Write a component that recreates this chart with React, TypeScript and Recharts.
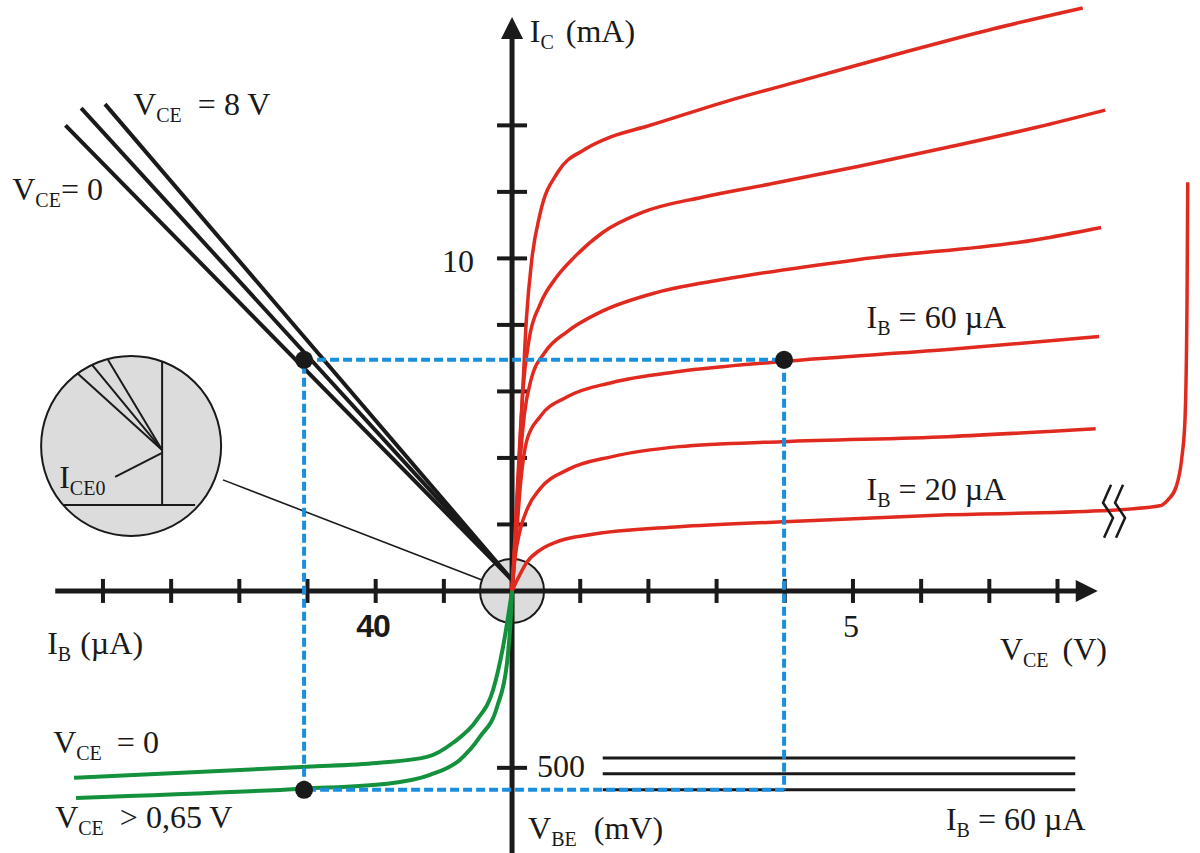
import React from "react";
import { ComposedChart, Line, XAxis, YAxis, ReferenceLine, ReferenceDot } from "recharts";

// one x unit = 1 V (right half) or 20 µA (left half)
// one y unit = 1 mA (top half) or 94 mV (bottom half)
const IB_PER_UNIT = 20;
const MV_PER_UNIT = 94;
const X_DOMAIN: [number, number] = [-7.51, 10.09];
const Y_DOMAIN: [number, number] = [-7.88, 17.77];

// output characteristics [V_CE (V), I_C (mA)]
const ic20 = [[0, 0], [0.09, 0.39], [0.22, 0.87], [0.41, 1.23], [0.7, 1.51], [1.14, 1.69], [2.45, 1.93], [3.96, 2.08], [6.39, 2.29], [8.64, 2.41], [9.5, 2.56], [9.62, 2.74], [9.74, 3.13], [9.82, 3.95], [9.87, 5.15], [9.9, 8.77], [9.91, 12.29]];
const ic40 = [[0, 0], [0.04, 0.93], [0.12, 1.84], [0.23, 2.5], [0.41, 3.07], [0.81, 3.64], [1.47, 4.04], [2.45, 4.34], [3.96, 4.49], [6.39, 4.64], [8.56, 4.88]];
const ic60 = [[0, 0], [0.06, 1.54], [0.13, 3.34], [0.22, 4.55], [0.41, 5.24], [0.81, 5.84], [1.47, 6.27], [2.45, 6.6], [3.96, 6.9], [6.39, 7.26], [8.61, 7.65]];
const ic80 = [[0, 0], [0.06, 1.84], [0.12, 3.95], [0.18, 5.3], [0.28, 6.36], [0.48, 7.17], [0.81, 7.8], [1.28, 8.37], [2.13, 8.98], [3.11, 9.37], [5.09, 9.97], [7.71, 10.57], [8.64, 10.93]];
const ic100 = [[0, 0], [0.04, 1.54], [0.1, 3.95], [0.16, 6.05], [0.25, 7.56], [0.41, 8.61], [0.65, 9.43], [0.91, 10.03], [1.33, 10.78], [1.92, 11.39], [2.79, 11.84], [3.77, 12.23], [5.09, 12.77], [6.39, 13.34], [7.71, 13.95], [8.7, 14.46]];
const ic120 = [[0, 0], [0.03, 0.93], [0.09, 3.34], [0.15, 5.75], [0.21, 8.16], [0.29, 9.97], [0.41, 11.33], [0.67, 12.59], [1.07, 13.28], [1.47, 13.67], [1.99, 13.98], [3.11, 14.7], [4.43, 15.45], [5.75, 16.2], [7.05, 16.9], [8.37, 17.53]];

// current transfer [I_B (µA), I_C (mA)]
const ICE0 = 0.33;
const gainVce0 = [[0, ICE0], [131, 14.0]];
const gainVceMid = [[0, ICE0], [126.4, 14.52]];
const gainVce8 = [[0, ICE0], [119.4, 14.64]];

// input characteristics [I_B (µA), V_BE (mV)]
const inputVce0 = [[0, 0], [2.64, 158], [5.57, 280], [10.27, 364], [17.3, 429], [24.93, 469], [39.6, 486], [60.1, 497], [128.5, 528]];
const inputVceHigh = [[0, 0], [0.3, 62], [1.47, 203], [4.4, 328], [9.39, 412], [15.25, 477], [24.05, 520], [36.66, 545], [61.3, 559], [127.9, 585]];

// feedback characteristics: V_BE (mV) levels over V_CE range (V)
const feedbackVbe = [472, 517, 562];
const feedbackVce = [1.33, 8.26];

// operating point
const opIb = 61;
const opIc = 6.95;
const opVce = 3.99;
const opVbe = 562;

// ticks
const vceTicks = [1, 2, 3, 4, 5, 6, 7, 8];
const ibTicks = [20, 40, 60, 80, 100, 120];
const icTicks = [2, 4, 6, 8, 10, 12, 14];
const vbeTicks = [500];

const ibX = (ib: number) => -ib / IB_PER_UNIT;
const vbeY = (mv: number) => -mv / MV_PER_UNIT;

const byX = (a: { x: number }, b: { x: number }) => a.x - b.x;
const outData = [ic20, ic40, ic60, ic80, ic100, ic120].map((s) => s.map(([v, i]) => ({ x: v, y: i })));
const gainData = [gainVce0, gainVceMid, gainVce8].map((s) => s.map(([ib, ic]) => ({ x: ibX(ib), y: ic })).sort(byX));
const inputData = [inputVce0, inputVceHigh].map((s) => s.map(([ib, mv]) => ({ x: ibX(ib), y: vbeY(mv) })).sort(byX));
const feedbackData = feedbackVbe.map((mv) => feedbackVce.map((v) => ({ x: v, y: vbeY(mv) })));

const RED = "#e12a1f";
const GREEN = "#14913d";
const BLUE = "#1b8fdd";
const INK = "#1a1a1a";
const GRAY = "#dcdcdc";
const SERIF = "'Liberation Serif', 'Times New Roman', Times, serif";
const SANS = "'Liberation Sans', Arial, sans-serif";

type Part = { t: string; sub?: boolean; dx?: number };
interface Lbl {
  x: number;
  y: number;
  parts: Part[];
  anchor?: "start" | "middle" | "end";
  bold?: boolean;
}

const labels: Lbl[] = [
  { x: 0.26, y: 16.51, parts: [{ t: "I" }, { t: "C", sub: true }, { t: " (mA)", dx: 4 }] },
  { x: -5.557, y: 14.32, parts: [{ t: "V" }, { t: "CE", sub: true }, { t: "= 8 V", dx: 16 }] },
  { x: -7.331, y: 11.76, parts: [{ t: "V" }, { t: "CE", sub: true }, { t: "= 0", dx: 0 }] },
  { x: -0.557, y: 9.59, anchor: "end", parts: [{ t: "10" }] },
  { x: 5.2, y: 7.91, parts: [{ t: "I" }, { t: "B", sub: true }, { t: " = 60 µA" }] },
  { x: 5.2, y: 2.74, parts: [{ t: "I" }, { t: "B", sub: true }, { t: " = 20 µA" }] },
  { x: -6.642, y: 3.1, parts: [{ t: "I" }, { t: "CE0", sub: true }] },
  { x: -6.818, y: -1.895, parts: [{ t: "I" }, { t: "B", sub: true }, { t: " (µA)", dx: 1 }] },
  { x: -2.038, y: -1.383, anchor: "middle", bold: true, parts: [{ t: "40" }] },
  { x: 4.97, y: -1.383, anchor: "middle", parts: [{ t: "5" }] },
  { x: 7.155, y: -2.075, parts: [{ t: "V" }, { t: "CE", sub: true }, { t: "(V)", dx: 14 }] },
  { x: -6.73, y: -4.872, parts: [{ t: "V" }, { t: "CE", sub: true }, { t: "= 0", dx: 15 }] },
  { x: -6.701, y: -7.128, parts: [{ t: "V" }, { t: "CE", sub: true }, { t: "> 0,65 V", dx: 16 }] },
  { x: 0.367, y: -5.594, parts: [{ t: "500" }] },
  { x: 0.235, y: -7.459, parts: [{ t: "V" }, { t: "BE", sub: true }, { t: "(mV)", dx: 17 }] },
  { x: 6.364, y: -7.188, parts: [{ t: "I" }, { t: "B", sub: true }, { t: " = 60 µA" }] }
];

const FONT_SIZE = 32;
const SUB_SIZE = 20;
const SUB_DY = 7;

function labelShape(l: Lbl) {
  return (p: any) => {
    let shift = 0;
    const size = FONT_SIZE;
    return (
      <text
        x={p.cx}
        y={p.cy}
        textAnchor={l.anchor || "start"}
        fill={INK}
        xmlSpace="preserve"
        style={{ whiteSpace: "pre", fontFamily: l.bold ? SANS : SERIF, fontWeight: l.bold ? 700 : 400, fontSize: size, letterSpacing: l.bold ? -1 : 0 }}
      >
        {l.parts.map((pt, i) => {
          const target = pt.sub ? SUB_DY : 0;
          const dy = target - shift;
          shift = target;
          return (
            <tspan key={i} dy={dy} dx={pt.dx || 0} style={{ fontSize: pt.sub ? SUB_SIZE : size }}>
              {pt.t}
            </tspan>
          );
        })}
      </text>
    );
  };
}

const vTick = (p: any) => <line x1={p.cx} x2={p.cx} y1={p.cy - 12} y2={p.cy + 12} stroke={INK} strokeWidth={4} />;
const hTick = (p: any) => <line x1={p.cx - 15} x2={p.cx + 15} y1={p.cy} y2={p.cy} stroke={INK} strokeWidth={4} />;
const arrowRight = (p: any) => <polygon points={`${p.cx},${p.cy} ${p.cx - 22},${p.cy - 11} ${p.cx - 22},${p.cy + 11}`} fill={INK} />;
const arrowUp = (p: any) => <polygon points={`${p.cx},${p.cy} ${p.cx - 11},${p.cy + 22} ${p.cx + 11},${p.cy + 22}`} fill={INK} />;

// magnified view of the origin
const insetShape = (p: any) => {
  const { cx, cy } = p;
  const ax = cx + 31;
  const ay = cy + 4;
  const rays = [[-54, -73], [-39, -81], [-23, -86]];
  return (
    <g stroke={INK} strokeWidth={2}>
      <circle cx={cx} cy={cy} r={90} fill={GRAY} />
      <line x1={cx + 31} y1={cy - 85} x2={cx + 31} y2={cy + 59} />
      <line x1={cx - 68} y1={cy + 59} x2={cx + 64} y2={cy + 59} />
      {rays.map(([dx, dy], i) => (
        <line key={i} x1={ax} y1={ay} x2={cx + dx} y2={cy + dy} />
      ))}
      <line x1={cx - 16} y1={cy + 31} x2={ax} y2={cy + 7} />
    </g>
  );
};

const breakShape = (p: any) => {
  const { cx, cy } = p;
  const mark = (o: number) => `M${cx + o - 1},${cy - 27} L${cx + o - 9},${cy - 9} L${cx + o + 1},${cy + 6} L${cx + o - 8},${cy + 26}`;
  return (
    <g fill="none" stroke={INK} strokeWidth={2.5}>
      <path d={mark(0)} />
      <path d={mark(12)} />
    </g>
  );
};

export default function App() {
  const opX = ibX(opIb);
  const opY = vbeY(opVbe);
  return (
    <div style={{ position: "absolute", left: 0, top: 0, width: 1200, height: 853, background: "#fff" }}>
      <ComposedChart width={1200} height={853} margin={{ top: 0, right: 0, bottom: 0, left: 0 }}>
        <XAxis type="number" dataKey="x" domain={X_DOMAIN} allowDataOverflow hide />
        <YAxis type="number" dataKey="y" domain={Y_DOMAIN} allowDataOverflow hide />

        <ReferenceDot x={-5.587} y={4.36} r={90} shape={insetShape} zIndex={10} />
        <ReferenceDot x={0} y={0} r={32} fill={GRAY} stroke={INK} strokeWidth={2} zIndex={10} />
        <ReferenceLine segment={[{ x: -4.24, y: 3.34 }, { x: -0.44, y: 0.33 }]} stroke={INK} strokeWidth={1.6} zIndex={20} />

        <ReferenceLine segment={[{ x: -6.7, y: 0 }, { x: 8.3, y: 0 }]} stroke={INK} strokeWidth={5} zIndex={300} />
        <ReferenceLine segment={[{ x: 0, y: Y_DOMAIN[0] }, { x: 0, y: 16.6 }]} stroke={INK} strokeWidth={5} zIndex={300} />
        <ReferenceDot x={8.59} y={0} r={1} shape={arrowRight} zIndex={300} />
        <ReferenceDot x={0} y={17.26} r={1} shape={arrowUp} zIndex={300} />
        {vceTicks.map((v) => (
          <ReferenceDot key={"v" + v} x={v} y={0} r={1} shape={vTick} zIndex={300} />
        ))}
        {ibTicks.map((ib) => (
          <ReferenceDot key={"b" + ib} x={ibX(ib)} y={0} r={1} shape={vTick} zIndex={300} />
        ))}
        {icTicks.map((ic) => (
          <ReferenceDot key={"c" + ic} x={0} y={ic} r={1} shape={hTick} zIndex={300} />
        ))}
        {vbeTicks.map((mv) => (
          <ReferenceDot key={"m" + mv} x={0} y={vbeY(mv)} r={1} shape={hTick} zIndex={300} />
        ))}

        {gainData.map((d, i) => (
          <Line key={"g" + i} data={d} dataKey="y" type="linear" stroke={INK} strokeWidth={4} dot={false} activeDot={false} isAnimationActive={false} zIndex={400} />
        ))}
        {feedbackData.map((d, i) => (
          <Line key={"f" + i} data={d} dataKey="y" type="linear" stroke={INK} strokeWidth={3} dot={false} activeDot={false} isAnimationActive={false} zIndex={400} />
        ))}
        {outData.map((d, i) => (
          <Line key={"o" + i} data={d} dataKey="y" type="monotoneX" stroke={RED} strokeWidth={3.5} dot={false} activeDot={false} isAnimationActive={false} zIndex={410} />
        ))}
        {inputData.map((d, i) => (
          <Line key={"i" + i} data={d} dataKey="y" type="monotoneX" stroke={GREEN} strokeWidth={4} dot={false} activeDot={false} isAnimationActive={false} zIndex={410} />
        ))}

        <ReferenceLine segment={[{ x: opX, y: opIc }, { x: opVce, y: opIc }]} stroke={BLUE} strokeWidth={4} strokeDasharray="9 4" zIndex={450} />
        <ReferenceLine segment={[{ x: opVce, y: opIc }, { x: opVce, y: opY }]} stroke={BLUE} strokeWidth={4} strokeDasharray="9 4" zIndex={450} />
        <ReferenceLine segment={[{ x: opVce, y: opY }, { x: opX, y: opY }]} stroke={BLUE} strokeWidth={4} strokeDasharray="9 4" zIndex={450} />
        <ReferenceLine segment={[{ x: opX, y: opY }, { x: opX, y: opIc }]} stroke={BLUE} strokeWidth={4} strokeDasharray="9 4" zIndex={450} />

        <ReferenceDot x={opX} y={opIc} r={9} fill={INK} stroke="none" zIndex={500} />
        <ReferenceDot x={opVce} y={opIc} r={9} fill={INK} stroke="none" zIndex={500} />
        <ReferenceDot x={opX} y={opY} r={9} fill={INK} stroke="none" zIndex={500} />
        <ReferenceDot x={8.8} y={2.38} r={1} shape={breakShape} zIndex={520} />

        {labels.map((l, i) => (
          <ReferenceDot key={"l" + i} x={l.x} y={l.y} r={1} shape={labelShape(l)} zIndex={600} />
        ))}
      </ComposedChart>
    </div>
  );
}
